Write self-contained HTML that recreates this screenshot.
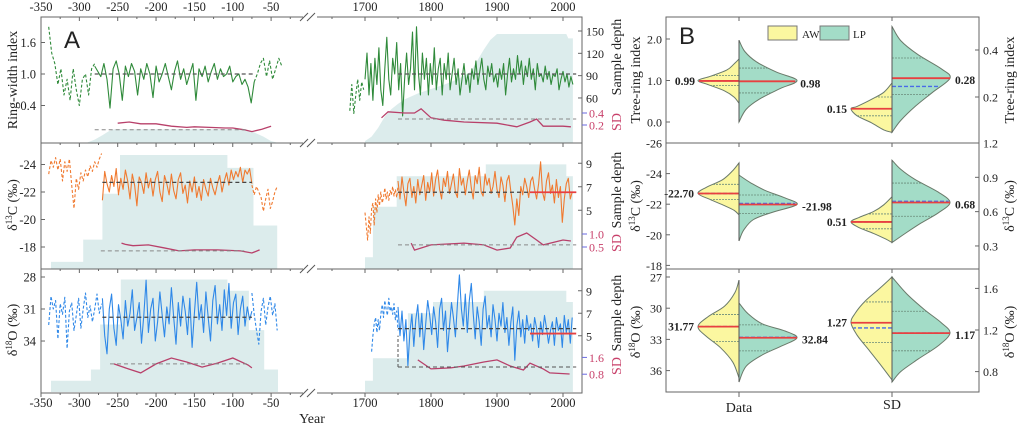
<!DOCTYPE html>
<html><head><meta charset="utf-8">
<style>
html,body{margin:0;padding:0;background:#fff;}
svg{display:block;font-family:"Liberation Serif",serif;}
</style></head>
<body>
<svg id="chart" width="1018" height="426" viewBox="0 0 1018 426"></svg>
<script>
// ---------------- DATA (Panel A) ----------------
const rwiLeftDashStart=-340, rwiLeftDashStep=4;
const rwiLeftDash=[1.9,1.4,1.2,0.8,1.1,0.6,0.9,0.5,1.1,0.7,0.4,0.9,1.0,0.6,1.1,1.2];
const rwiLeftStart=-280, rwiLeftStep=4;
const rwiLeft=[1.15,1.05,0.95,1.2,0.9,0.35,1.1,1.25,1.0,0.5,1.15,0.95,1.2,1.05,0.6,1.1,0.9,1.2,1.0,0.55,1.15,0.85,1.0,1.2,0.95,0.7,1.05,1.25,0.9,1.1,0.8,1.0,1.2,0.5,1.1,0.95,1.15,0.85,1.05,1.2,0.9,1.1,0.95,1.0,1.15,0.85,0.95,1.0,0.8,0.9,0.75,0.45,0.85];
const rwiLeftDash2Start=-72, rwiLeftDash2Step=4;
const rwiLeftDash2=[0.85,1.0,1.2,1.3,0.95,1.25,0.9,1.1,1.3,1.15];
const rwiRightDashStart=1677, rwiRightDashStep=3;
const rwiRightDash=[0.3,0.8,0.25,0.6,0.9,0.5,0.85,0.7];
const rwiRightStart=1700, rwiRightStep=3;
const rwiRight=[0.9,1.4,0.6,1.2,0.5,1.3,0.8,1.5,0.7,0.4,1.1,1.7,0.9,0.6,1.3,1.0,1.6,0.7,1.2,0.2,0.9,1.4,0.8,1.1,1.8,0.7,1.9,1.0,0.6,1.4,0.9,1.3,0.6,1.2,
0.8,1.5,0.7,1.1,1.3,0.6,1.2,0.9,1.4,0.7,1.0,1.3,0.8,1.1,0.6,0.9,1.2,0.8,1.0,0.65,1.1,0.9,1.25,0.8,1.05,1.3,0.9,0.7,1.15,0.95,1.2,0.85,1.0,
0.75,1.1,0.9,1.2,0.6,1.0,1.3,0.85,1.1,0.9,1.35,1.0,1.25,0.8,1.15,0.95,1.3,0.9,1.1,0.7,1.2,0.95,1.0,0.85,1.15,0.9,1.05,0.8,1.0,0.95,1.1,0.7,0.9,1.05,0.85,1.0,0.75,0.95,0.8];
const c13LeftDashStart=-340, c13LeftDashStep=3;
const c13LeftDash=[-23.3,-24.3,-23.8,-24.5,-23.6,-24.4,-22.8,-24.2,-23.5,-24.4,-22.5,-20.8,-23.0,-22.2,-23.4,-22.8,-23.6,-23.1,-23.9,-23.5,-24.2,-23.8,-24.4,-24.8];
const c13LeftStart=-270, c13LeftStep=3;
const c13Left=[-21.4,-23.5,-22.6,-22.0,-23.2,-22.4,-23.7,-21.8,-23.0,-22.2,-23.6,-22.8,-21.5,-23.3,-22.5,-21.0,-23.1,-22.7,-21.9,-23.4,-22.3,-23.0,-21.7,-22.9,-23.5,-22.0,-21.3,-23.2,-22.6,-21.8,-23.3,-22.1,-21.5,-22.9,-23.4,-21.9,-22.5,-21.2,-22.8,-22.0,-23.1,-21.6,-22.4,-21.4,-22.9,-22.2,-21.7,-23.0,-22.3,-21.8,-22.6,-23.2,-22.0,-22.8,-23.4,-22.5,-23.6,-22.9,-23.5,-23.1,-23.8,-22.7,-23.6,-23.3,-23.7,-22.6];
const c13LeftDash2Start=-75, c13LeftDash2Step=3;
const c13LeftDash2=[-22.5,-21.8,-22.4,-22.0,-21.6,-20.6,-21.5,-22.2,-20.8,-21.3,-22.0,-22.4];
const c13RightDashStart=1700, c13RightDashStep=2;
const c13RightDash=[-20.5,-19.5,-18.5,-20.2,-19.0,-20.8,-21.2,-19.6,-21.5,-20.5,-21.8,-21.0,-22.0,-21.2,-21.6,-22.3,-21.5,-22.0,-21.4,-22.1,-21.8,-22.4,-21.7,-22.2,-21.6,-22.4];
const c13RightStart=1750, c13RightStep=3;
const c13Right=[-22.8,-21.5,-23.1,-22.0,-21.0,-22.6,-23.0,-21.6,-22.4,-21.2,-22.9,-21.8,-22.5,-23.2,-21.4,-22.7,-22.0,-23.4,-21.7,-22.9,-23.6,-22.2,-21.5,-23.0,-22.4,-23.5,-21.9,-22.6,-23.3,-22.0,-21.6,-23.7,-22.5,-23.0,-21.8,-22.8,-23.6,-22.3,-21.5,-23.2,-22.6,-23.8,-22.0,-21.7,-23.3,-22.5,-23.0,-21.9,-22.4,-23.5,-22.2,-21.6,-23.1,-22.5,-21.3,-22.8,-23.2,-22.0,-21.0,-19.6,-21.5,-20.3,-22.4,-21.8,-23.0,-22.4,-21.6,-22.8,-23.1,-22.2,-21.5,-22.6,-24.2,-22.0,-21.4,-22.8,-23.4,-21.9,-22.5,-21.2,-22.9,-21.6,-22.4,-19.8,-21.5,-22.6,-23.0,-21.5,-22.0];
const o18LeftDashStart=-340, o18LeftDashStep=3;
const o18LeftDash=[32.5,29.8,31.0,30.2,33.8,30.5,31.5,29.9,34.7,31.2,30.4,33.0,31.6,30.0,32.8,31.0,29.5,31.8,30.7,32.2,31.0,29.6,31.4,30.5];
const o18LeftStart=-270, o18LeftStep=3;
const o18Left=[30.0,33.5,35.2,31.0,29.6,32.8,34.4,30.6,32.0,33.8,30.2,32.6,31.4,29.2,33.0,31.8,30.4,34.2,31.6,28.3,33.2,31.0,30.0,34.0,32.2,29.4,31.6,33.6,30.8,32.4,29.0,31.8,34.3,30.4,32.6,29.8,31.2,33.4,30.0,34.6,31.4,28.5,32.0,30.6,33.2,29.4,31.8,34.0,30.2,28.8,32.4,30.6,33.0,29.2,31.6,28.6,32.8,30.4,29.6,33.4,31.0,29.8,32.6,30.8,32.0,31.2];
const o18LeftDash2Start=-75, o18LeftDash2Step=3;
const o18LeftDash2=[29.5,31.5,33.0,34.3,31.2,30.0,32.5,30.8,29.8,31.6,30.5,33.0];
const o18RightDashStart=1710, o18RightDashStep=2;
const o18RightDash=[35.0,33.5,32.4,31.8,33.2,32.0,33.0,31.5,30.6,31.8,30.2,31.0,31.6,30.0,31.2,30.8,31.5,30.5,32.0,31.2,33.0];
const o18RightStart=1750, o18RightStep=3;
const o18Right=[30.8,33.5,31.2,34.0,32.0,36.3,33.2,31.5,34.5,32.0,30.6,33.6,31.4,34.8,32.4,30.2,31.6,33.4,30.8,32.2,34.6,31.0,30.0,33.0,31.2,35.0,32.6,30.4,31.8,33.6,30.6,27.8,31.0,32.6,29.6,33.2,30.2,28.6,31.4,33.8,30.8,32.2,34.4,31.0,29.8,32.8,31.6,33.6,30.6,32.0,34.0,31.4,32.6,30.4,33.2,31.8,34.4,32.2,30.8,35.8,32.6,31.2,33.6,32.0,34.2,31.6,33.0,32.4,34.0,31.8,32.8,34.6,32.2,33.4,31.6,32.8,34.2,33.0,32.2,34.4,31.8,33.0,32.4,34.6,31.6,33.2,32.0,34.2,31.8];
const means=[1.0,1.0,-22.7,-21.98,31.77,32.84];
const depth1LYears=[-290,-280,-270,-262,-255,-90,-75,-60,-50,-42];
const depth1L=[0,4,10,15,18,18,15,8,2,0];
const depth1RYears=[1700,1710,1720,1730,1740,1750,1760,1780,1800,1820,1840,1860,1870,1880,1890,1900,2005,2008,2015];
const depth1R=[2,8,20,35,45,52,58,66,72,78,85,95,110,125,138,146,146,140,140];
const depth2LEdges=[-337,-295,-270,-247,-107,-73,-42];
const depth2L=[0.6,2.5,6.4,9.7,8.6,3.7];
const depth2REdges=[1700,1712,1748,1883,2005,2015];
const depth2R=[1,5.3,7.9,8.9,7.9];
const depth3LEdges=[-337,-285,-273,-246,-107,-79,-59,-41];
const depth3L=[1,2,6,10,9,5.5,2];
const depth3REdges=[1700,1712,1765,1803,1880,2005,2015];
const depth3R=[1,3,7,8,9,8];
const sd1LYears=[-250,-235,-220,-200,-180,-160,-150,-130,-110,-100,-85,-75,-62,-50];
const sd1L=[0.23,0.25,0.22,0.22,0.18,0.16,0.17,0.16,0.15,0.15,0.12,0.09,0.13,0.18];
const sd1RYears=[1725,1735,1760,1775,1785,1800,1820,1850,1900,1930,1950,1960,1970,2000,2012];
const sd1R=[0.32,0.42,0.4,0.4,0.47,0.32,0.28,0.25,0.23,0.17,0.25,0.3,0.18,0.18,0.17];
const sd1Mean=[0.12,0.3];
const sd2LYears=[-245,-240,-230,-210,-190,-170,-150,-120,-90,-75,-65];
const sd2L=[0.65,0.6,0.55,0.58,0.47,0.35,0.39,0.39,0.35,0.27,0.39];
const sd2RYears=[1770,1775,1800,1850,1880,1900,1920,1930,1945,1960,1970,2000,2012];
const sd2R=[0.65,0.38,0.58,0.65,0.58,0.38,0.46,0.88,1.04,0.77,0.58,0.77,0.73];
const sd2Mean=[0.35,0.58];
const sd3LYears=[-255,-240,-220,-200,-180,-160,-140,-120,-100,-80,-75];
const sd3L=[1.29,1.1,0.86,1.29,1.57,1.38,1.14,1.33,1.57,1.24,1.1];
const sd3RYears=[1780,1800,1830,1850,1880,1900,1920,1940,1950,1970,1980,2010];
const sd3R=[1.48,1.05,1.1,1.19,1.38,1.48,1.19,1.0,1.33,1.05,0.86,0.81];
const sd3Mean=[1.29,1.14];

// ---------------- DATA (Panel B violins) ----------------
const vTopDataAWv=[1.52,1.4,1.25,1.1,1.0,0.9,0.75,0.6,0.45];
const vTopDataAWw=[0,0.12,0.3,0.7,1,0.75,0.35,0.12,0];
const vTopDataLPv=[1.97,1.7,1.45,1.2,1.0,0.8,0.55,0.3,0.0];
const vTopDataLPw=[0,0.1,0.3,0.65,1,0.7,0.35,0.12,0];
const vTopSdAWv=[0.26,0.22,0.19,0.16,0.15,0.12,0.09,0.06,0.05];
const vTopSdAWw=[0,0.2,0.5,0.85,1,0.85,0.5,0.2,0];
const vTopSdLPv=[0.5,0.44,0.38,0.32,0.28,0.22,0.16,0.1,0.05];
const vTopSdLPw=[0,0.15,0.45,0.85,1,0.7,0.4,0.15,0];
const vMidDataAWv=[-24.7,-24.2,-23.6,-23.1,-22.7,-22.3,-21.9,-21.6,-21.3];
const vMidDataAWw=[0,0.15,0.4,0.8,1,0.7,0.35,0.12,0];
const vMidDataLPv=[-23.9,-23.4,-22.9,-22.4,-21.98,-21.5,-21.0,-20.3,-19.6];
const vMidDataLPw=[0,0.2,0.45,0.8,1,0.6,0.25,0.08,0];
const vMidSdAWv=[0.73,0.66,0.6,0.55,0.51,0.46,0.41,0.36,0.33];
const vMidSdAWw=[0,0.2,0.45,0.8,1,0.8,0.45,0.15,0];
const vMidSdLPv=[1.05,0.97,0.88,0.77,0.68,0.59,0.5,0.4,0.33];
const vMidSdLPw=[0,0.15,0.4,0.8,1,0.8,0.5,0.2,0];
const vBotDataAWv=[27.3,28.5,29.8,30.8,31.77,32.7,33.8,35.2,36.7];
const vBotDataAWw=[0,0.1,0.35,0.75,1,0.8,0.45,0.15,0];
const vBotDataLPv=[29.5,30.5,31.5,32.2,32.84,33.6,34.5,35.6,37.1];
const vBotDataLPw=[0,0.15,0.4,0.8,1,0.75,0.4,0.12,0];
const vBotSdAWv=[1.71,1.6,1.48,1.36,1.27,1.15,1.0,0.85,0.72];
const vBotSdAWw=[0,0.3,0.65,0.9,1,0.85,0.55,0.25,0];
const vBotSdLPv=[1.71,1.55,1.4,1.27,1.17,1.05,0.92,0.8,0.7];
const vBotSdLPw=[0,0.25,0.55,0.85,1,0.8,0.45,0.15,0];
const medTopData=[0.99,0.98], meanTopData=[0.99,0.98], qTopData=[[0.88,1.12],[0.7,1.3]];
const medTopSd=[0.15,0.28], meanTopSd=[0.15,0.245], qTopSd=[[0.12,0.2],[0.21,0.366]];
const medMidData=[-22.70,-21.98], meanMidData=[-22.70,-22.05], qMidData=[[-23.3,-22.3],[-22.6,-21.4]];
const medMidSd=[0.51,0.68], meanMidSd=[0.51,0.69], qMidSd=[[0.45,0.58],[0.56,0.85]];
const medBotData=[31.77,32.84], meanBotData=[31.77,32.8], qBotData=[[30.6,33.2],[31.6,34.1]];
const medBotSd=[1.27,1.17], meanBotSd=[1.22,1.17], qBotSd=[[1.08,1.47],[1.0,1.38]];
const bLabels=[["0.99","0.98","0.15","0.28"],["-22.70","-21.98","0.51","0.68"],["31.77","32.84","1.27","1.17"]];

// ---------------- helpers ----------------
const NS='http://www.w3.org/2000/svg';
const svg=document.getElementById('chart');
function mk(tag, attrs, name){
  const el=document.createElementNS(NS,tag);
  for(const k in attrs) el.setAttribute(k,attrs[k]);
  
  
  svg.appendChild(el);
  return el;
}
function txt(x,y,s,name,opt){
  opt=opt||{};
  const el=mk('text',{x:x,y:y,'font-size':opt.size||13,'text-anchor':opt.anchor||'middle',fill:opt.fill||'#222','font-weight':opt.weight||'normal','font-family':opt.family||'"Liberation Serif",serif'},name);
  if(opt.rot) el.setAttribute('transform','rotate('+opt.rot+' '+x+' '+y+')');
  el.textContent=s;
  return el;
}
function ln(x1,y1,x2,y2,name,stroke,w,dash){
  const a={x1:x1,y1:y1,x2:x2,y2:y2,stroke:stroke||'#555','stroke-width':w||1};
  if(dash) a['stroke-dasharray']=dash;
  return mk('line',a,name);
}
const xL=yr=>41+(yr+350)*0.767;
const xR=yr=>365+(yr-1700)*0.66;
const xA=yr=>yr<500?xL(yr):xR(yr);
const yRWI=v=>74-(v-1.0)*52.5;
const yC=v=>192+(v+22)*13.75;
const yO=v=>277+(v-28)*10.67;
const yD1=d=>142.6-d*0.744;
const yD2=d=>269-d*11.75;
const yD3=d=>392-d*11.25;
const ySD1=v=>137-v*60;
const ySD2=v=>260-v*26;
const ySD3=v=>391-v*21;
const yFns=[yRWI,yC,yO];
const dFns=[yD1,yD2,yD3];
const sdFns=[ySD1,ySD2,ySD3];

function areaSmooth(years,vals,yf,name){
  let d='M'+xA(years[0])+' '+yf(0);
  years.forEach((y,i)=>{d+=' L'+xA(y).toFixed(1)+' '+yf(vals[i]).toFixed(1);});
  d+=' L'+xA(years[years.length-1])+' '+yf(0)+' Z';
  mk('path',{d:d,fill:'#dcecec',stroke:'none'},name);
}
function areaSteps(edges,vals,yf,name){
  let d='M'+xA(edges[0])+' '+yf(0);
  vals.forEach((v,i)=>{d+=' L'+xA(edges[i]).toFixed(1)+' '+yf(v).toFixed(1)+' L'+xA(edges[i+1]).toFixed(1)+' '+yf(v).toFixed(1);});
  d+=' L'+xA(edges[edges.length-1])+' '+yf(0)+' Z';
  mk('path',{d:d,fill:'#dcecec',stroke:'none'},name);
}
areaSmooth(depth1LYears,depth1L,yD1,'sample-depth-rwi-early');
areaSmooth(depth1RYears,depth1R,yD1,'sample-depth-rwi-recent');
areaSteps(depth2LEdges,depth2L,yD2,'sample-depth-d13c-early');
areaSteps(depth2REdges,depth2R,yD2,'sample-depth-d13c-recent');
areaSteps(depth3LEdges,depth3L,yD3,'sample-depth-d18o-early');
areaSteps(depth3REdges,depth3R,yD3,'sample-depth-d18o-recent');

function series(start,step,vals,yf,color,dashed,name){
  const pts=vals.map((v,i)=>xA(start+i*step).toFixed(1)+','+yf(v).toFixed(1)).join(' ');
  const a={points:pts,fill:'none',stroke:color,'stroke-width':1.1,'stroke-linejoin':'round'};
  if(dashed) a['stroke-dasharray']='3,2';
  mk('polyline',a,name);
}
function curve(years,vals,yf,color,name){
  const pts=vals.map((v,i)=>xA(years[i]).toFixed(1)+','+yf(v).toFixed(1)).join(' ');
  mk('polyline',{points:pts,fill:'none',stroke:color,'stroke-width':1.3},name);
}
const G='#2f8a3a', O='#f07a30', B='#2f88e8', SDc='#b8406a';
series(rwiLeftDashStart,rwiLeftDashStep,rwiLeftDash,yRWI,G,true,'rwi-early-dashed');
series(rwiLeftStart,rwiLeftStep,rwiLeft,yRWI,G,false,'rwi-early-line');
series(rwiLeftDash2Start,rwiLeftDash2Step,rwiLeftDash2,yRWI,G,true,'rwi-early-tail-dashed');
series(rwiRightDashStart,rwiRightDashStep,rwiRightDash,yRWI,G,true,'rwi-recent-dashed');
series(rwiRightStart,rwiRightStep,rwiRight,yRWI,G,false,'rwi-recent-line');
series(c13LeftDashStart,c13LeftDashStep,c13LeftDash,yC,O,true,'d13c-early-dashed');
series(c13LeftStart,c13LeftStep,c13Left,yC,O,false,'d13c-early-line');
series(c13LeftDash2Start,c13LeftDash2Step,c13LeftDash2,yC,O,true,'d13c-early-tail-dashed');
series(c13RightDashStart,c13RightDashStep,c13RightDash,yC,O,true,'d13c-recent-dashed');
series(c13RightStart,c13RightStep,c13Right,yC,O,false,'d13c-recent-line');
series(o18LeftDashStart,o18LeftDashStep,o18LeftDash,yO,B,true,'d18o-early-dashed');
series(o18LeftStart,o18LeftStep,o18Left,yO,B,false,'d18o-early-line');
series(o18LeftDash2Start,o18LeftDash2Step,o18LeftDash2,yO,B,true,'d18o-early-tail-dashed');
series(o18RightDashStart,o18RightDashStep,o18RightDash,yO,B,true,'d18o-recent-dashed');
series(o18RightStart,o18RightStep,o18Right,yO,B,false,'d18o-recent-line');
ln(xL(-280),yRWI(means[0]),xL(-72),yRWI(means[0]),'rwi-early-mean','#555',1.2,'4,3');
ln(xR(1750),yRWI(means[1]),xR(2020),yRWI(means[1]),'rwi-recent-mean','#555',1.2,'4,3');
ln(xL(-270),yC(means[2]),xL(-75),yC(means[2]),'d13c-early-mean','#444',1.3,'4,3');
ln(xR(1750),yC(means[3]),xR(2020),yC(means[3]),'d13c-recent-mean','#444',1.3,'4,3');
ln(xR(1950),yC(means[3]),xR(2020),yC(means[3]),'d13c-recent-red-mean','#e84040',1.8);
ln(xL(-270),yO(means[4]),xL(-75),yO(means[4]),'d18o-early-mean','#444',1.3,'4,3');
ln(xR(1750),yO(means[5]),xR(2020),yO(means[5]),'d18o-recent-mean','#444',1.3,'4,3');
ln(xR(1950),yO(33.3),xR(2020),yO(33.3),'d18o-recent-red-mean','#e84040',1.8);
curve(sd1LYears,sd1L,ySD1,SDc,'sd-rwi-early');
curve(sd1RYears,sd1R,ySD1,SDc,'sd-rwi-recent');
curve(sd2LYears,sd2L,ySD2,SDc,'sd-d13c-early');
curve(sd2RYears,sd2R,ySD2,SDc,'sd-d13c-recent');
curve(sd3LYears,sd3L,ySD3,SDc,'sd-d18o-early');
curve(sd3RYears,sd3R,ySD3,SDc,'sd-d18o-recent');
ln(xL(-280),ySD1(sd1Mean[0]),xL(-80),ySD1(sd1Mean[0]),'sd-rwi-early-mean','#888',1,'4,3');
ln(xR(1750),ySD1(sd1Mean[1]),xR(2020),ySD1(sd1Mean[1]),'sd-rwi-recent-mean','#888',1,'4,3');
ln(xL(-272),ySD2(sd2Mean[0]),xL(-85),ySD2(sd2Mean[0]),'sd-d13c-early-mean','#888',1,'4,3');
ln(xR(1750),ySD2(sd2Mean[1]),xR(2020),ySD2(sd2Mean[1]),'sd-d13c-recent-mean','#888',1,'4,3');
ln(xL(-260),ySD3(sd3Mean[0]),xL(-80),ySD3(sd3Mean[0]),'sd-d18o-early-mean','#888',1,'4,3');
ln(xR(1750),ySD3(sd3Mean[1]),xR(2020),ySD3(sd3Mean[1]),'sd-d18o-recent-mean','#555',1,'4,3');
ln(xR(1750),ySD3(sd3Mean[1]),xR(1750),yO(33.5),'d18o-start-marker','#555',1,'3,2');

mk('rect',{x:41,y:17,width:541,height:376,fill:'none',stroke:'#666','stroke-width':1},'panel-a-frame');
ln(41,143,582,143,'panel-a-divider-1','#666',1);
ln(41,269,582,269,'panel-a-divider-2','#666',1);
const topTicksL=[-350,-300,-250,-200,-150,-100,-50];
const topTicksR=[1700,1800,1900,2000];
[17,143,269,393].forEach(yy=>{
  topTicksL.forEach(t=>{ln(xL(t),yy,xL(t),yy+4,'x-tick','#666',1); ln(xL(t+25),yy,xL(t+25),yy+2,'x-minor-tick','#666',1);});
  topTicksR.forEach(t=>{ln(xR(t),yy,xR(t),yy+4,'x-tick','#666',1); ln(xR(t-50),yy,xR(t-50),yy+2,'x-minor-tick','#666',1);});
  mk('rect',{x:303,y:yy-4,width:14,height:8,fill:'#fff'},'axis-break-gap');
  ln(300,yy+4,308,yy-4,'axis-break-mark','#555',1);
  ln(307,yy+4,315,yy-4,'axis-break-mark','#555',1);
});
topTicksL.forEach(t=>{txt(xL(t),11,String(t),'top-year-label',{size:12.5}); txt(xL(t),407,String(t),'bottom-year-label',{size:12.5});});
topTicksR.forEach(t=>{txt(xR(t),11,String(t),'top-year-label',{size:12.5}); txt(xR(t),407,String(t),'bottom-year-label',{size:12.5});});
txt(312,423,'Year','x-axis-title',{size:14});
txt(72,48,'A','panel-a-label',{size:24,family:'"Liberation Sans",sans-serif'});

const yTicks=[[0.4,1.0,1.6],[-24,-22,-20,-18],[28,31,34]];
const yTickLabels=[['0.4','1.0','1.6'],['-24','-22','-20','-18'],['28','31','34']];
yTicks.forEach((arr,p)=>arr.forEach((v,i)=>{const y=yFns[p](v); ln(41,y,45,y,'y-tick','#666',1); txt(36,y+4.5,yTickLabels[p][i],'y-tick-label',{anchor:'end',size:12.5});}));
txt(17,80,'Ring-width index','y-axis-title-rwi',{rot:-90,size:14});
const t13=txt(17,205,'','y-axis-title-d13c',{rot:-90,size:14}); t13.innerHTML='δ<tspan font-size="9" dy="-5">13</tspan><tspan dy="5">C (‰)</tspan>';
const t18=txt(17,330,'','y-axis-title-d18o',{rot:-90,size:14}); t18.innerHTML='δ<tspan font-size="9" dy="-5">18</tspan><tspan dy="5">O (‰)</tspan>';
const dTicks=[[150,120,90,60],[9,7,5],[9,7,5]];
dTicks.forEach((arr,p)=>arr.forEach(v=>{const y=dFns[p](v); ln(578,y,582,y,'depth-tick','#666',1); txt(586,y+4.5,String(v),'depth-tick-label',{anchor:'start',size:12});}));
const sdTicks=[[0.4,0.2],[1.0,0.5],[1.6,0.8]];
const sdTickLabels=[['0.4','0.2'],['1.0','0.5'],['1.6','0.8']];
sdTicks.forEach((arr,p)=>arr.forEach((v,i)=>{const y=sdFns[p](v); ln(582,y,587,y,'sd-tick','#6a6ae0',1); txt(589,y+4.5,sdTickLabels[p][i],'sd-tick-label',{anchor:'start',size:12,fill:'#c8406a'});}));
[[621,57],[621,190],[621,313]].forEach(c=>txt(c[0],c[1],'Sample depth','depth-axis-title',{rot:-90,size:14}));
[[621,122],[621,243],[621,366]].forEach(c=>txt(c[0],c[1],'SD','sd-axis-title',{rot:-90,size:14,fill:'#c8406a'}));

// ---------------- Panel B ----------------
const bx=[739,892];
const yB=[v=>122-v*41.5, v=>143+(v+26)*15.3, v=>277+(v-27)*10.4];
const yBr=[v=>144-v*235, v=>143+(1.2-v)*114.4, v=>330+(1.2-v)*104];
function smoothPath(pts){
  let d='M'+pts[0][0].toFixed(1)+' '+pts[0][1].toFixed(1);
  for(let i=0;i<pts.length-1;i++){
    const p0=pts[i-1]||pts[i],p1=pts[i],p2=pts[i+1],p3=pts[i+2]||p2;
    const c1=[p1[0]+(p2[0]-p0[0])/6,p1[1]+(p2[1]-p0[1])/6];
    const c2=[p2[0]-(p3[0]-p1[0])/6,p2[1]-(p3[1]-p1[1])/6];
    d+=' C'+c1[0].toFixed(1)+' '+c1[1].toFixed(1)+' '+c2[0].toFixed(1)+' '+c2[1].toFixed(1)+' '+p2[0].toFixed(1)+' '+p2[1].toFixed(1);
  }
  return d;
}
function halfViolin(cx,vals,ws,yf,side,maxW,fill,name){
  const pts=vals.map((v,i)=>[cx+side*ws[i]*maxW,yf(v)]);
  const d=smoothPath(pts)+' L'+cx+' '+yf(vals[vals.length-1]).toFixed(1)+' L'+cx+' '+yf(vals[0]).toFixed(1)+' Z';
  mk('path',{d:d,fill:fill,stroke:'#6a7a6a','stroke-width':1},name);
}
function widthAt(vals,ws,v){
  for(let i=0;i<vals.length-1;i++){const a=vals[i],b=vals[i+1]; if((v-a)*(v-b)<=0){const t=(v-a)/(b-a||1); return ws[i]+(ws[i+1]-ws[i])*t;}}
  return 0;
}
const YEL='#fbf7a0', GRN='#a3dcc7';
const vio=[
 [[vTopDataAWv,vTopDataAWw,vTopDataLPv,vTopDataLPw,medTopData,meanTopData,qTopData],[vTopSdAWv,vTopSdAWw,vTopSdLPv,vTopSdLPw,medTopSd,meanTopSd,qTopSd]],
 [[vMidDataAWv,vMidDataAWw,vMidDataLPv,vMidDataLPw,medMidData,meanMidData,qMidData],[vMidSdAWv,vMidSdAWw,vMidSdLPv,vMidSdLPw,medMidSd,meanMidSd,qMidSd]],
 [[vBotDataAWv,vBotDataAWw,vBotDataLPv,vBotDataLPw,medBotData,meanBotData,qBotData],[vBotSdAWv,vBotSdAWw,vBotSdLPv,vBotSdLPw,medBotSd,meanBotSd,qBotSd]]
];
vio.forEach((row,p)=>row.forEach((g,c)=>{
  const yf=c===0?yB[p]:yBr[p];
  const cx=bx[c];
  const [av,aw,lv,lw,med,mean,q]=g;
  halfViolin(cx,av,aw,yf,-1,41,YEL,'violin-aw');
  halfViolin(cx,lv,lw,yf,1,58,GRN,'violin-lp');
  [0,1].forEach(s=>{
    const vv=s===0?av:lv, ww=s===0?aw:lw, mw=s===0?41:58, sg=s===0?-1:1;
    q[s].forEach(qq=>{const y=yf(qq); ln(cx,y,cx+sg*widthAt(vv,ww,qq)*mw,y,'violin-quartile','#6a8a7a',0.8,'2,1');});
    const ym=yf(mean[s]); ln(cx,ym,cx+sg*widthAt(vv,ww,mean[s])*mw,ym,'violin-mean','#4a6ae8',1.4,'4,2');
    const yd=yf(med[s]); ln(cx,yd,cx+sg*widthAt(vv,ww,med[s])*mw,yd,'violin-median','#e84040',1.8);
  });
  ln(cx,yf(av[0]),cx,yf(av[av.length-1]),'violin-center','#555',1);
  ln(cx,yf(lv[0]),cx,yf(lv[lv.length-1]),'violin-center','#555',1);
  const la=bLabels[p][c*2], lb=bLabels[p][c*2+1];
  const ya=yf(med[0]), yb=yf(med[1]);
  txt(cx-widthAt(av,aw,med[0])*41-4,ya+4,la,'violin-value-label',{anchor:'end',size:11.5,weight:'bold'});
  txt(cx+widthAt(lv,lw,med[1])*58+5,yb+6,lb,'violin-value-label',{anchor:'start',size:11.5,weight:'bold'});
}));
mk('rect',{x:666,y:17,width:313,height:375,fill:'none',stroke:'#666','stroke-width':1},'panel-b-frame');
ln(666,143,979,143,'panel-b-divider-1','#666',1);
ln(666,269,979,269,'panel-b-divider-2','#666',1);
bx.forEach(x=>{ln(x,392,x,397,'b-x-tick','#666',1); [17,143,269].forEach(y=>ln(x,y,x,y+4,'b-x-tick','#666',1));});
txt(739,412,'Data','b-x-label-data',{size:14});
txt(892,409,'SD','b-x-label-sd',{size:14});
const bLeftTicks=[[0.0,1.0,2.0],[-26,-24,-22,-20,-18],[27,30,33,36]];
const bLeftLabels=[['0.0','1.0','2.0'],['-26','-24','-22','-20','-18'],['27','30','33','36']];
bLeftTicks.forEach((arr,p)=>arr.forEach((v,i)=>{const y=yB[p](v); ln(666,y,670,y,'b-y-tick','#666',1); txt(662,y+4.5,bLeftLabels[p][i],'b-y-tick-label',{anchor:'end',size:12});}));
const bRightTicks=[[0.2,0.4],[1.2,0.9,0.6,0.3],[1.6,1.2,0.8]];
const bRightLabels=[['0.2','0.4'],['1.2','0.9','0.6','0.3'],['1.6','1.2','0.8']];
bRightTicks.forEach((arr,p)=>arr.forEach((v,i)=>{const y=yBr[p](v); ln(975,y,979,y,'b-y2-tick','#666',1); txt(983,y+4.5,bRightLabels[p][i],'b-y2-tick-label',{anchor:'start',size:12});}));
txt(640,80,'Tree-ring index','b-y-title-tri',{rot:-90,size:14});
txt(1014,80,'Tree-ring index','b-y2-title-tri',{rot:-90,size:14});
[[640,206],[1014,206]].forEach(c=>{const e=txt(c[0],c[1],'','b-y-title-d13c',{rot:-90,size:14}); e.innerHTML='δ<tspan font-size="9" dy="-5">13</tspan><tspan dy="5">C (‰)</tspan>';});
[[640,332],[1014,332]].forEach(c=>{const e=txt(c[0],c[1],'','b-y-title-d18o',{rot:-90,size:14}); e.innerHTML='δ<tspan font-size="9" dy="-5">18</tspan><tspan dy="5">O (‰)</tspan>';});
txt(687,44,'B','panel-b-label',{size:24,family:'"Liberation Sans",sans-serif'});
mk('rect',{x:768,y:26,width:29,height:14,fill:YEL,stroke:'#777','stroke-width':1},'legend-aw-swatch');
txt(802,38,'AW','legend-aw-label',{anchor:'start',size:11});
mk('rect',{x:820,y:26,width:29,height:14,fill:GRN,stroke:'#777','stroke-width':1},'legend-lp-swatch');
txt(853,38,'LP','legend-lp-label',{anchor:'start',size:11});
</script>
</body></html>
